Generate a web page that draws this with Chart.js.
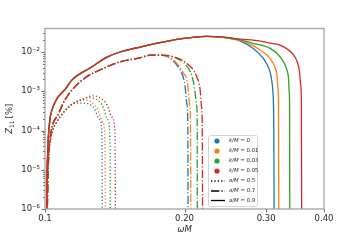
<!DOCTYPE html>
<html>
<head>
<meta charset="utf-8">
<script src="https://cdn.jsdelivr.net/npm/chart.js@4.4.1/dist/chart.umd.min.js"></script>
<style>
html,body{margin:0;padding:0;background:#fff;}
canvas{display:block;}
</style>
</head>
<body>
<canvas id="chart" width="360" height="240"></canvas>
<script>
// Axes
const omegaMin=0.1, omegaMax=0.4, zMin=1e-6, zMax=0.0397;
const omegaTicks=[0.1,0.2,0.3,0.4];
const omegaTickLabels=['0.1','0.20','0.30','0.40'];
const zMajorTicks=[1e-6,1e-5,1e-4,1e-3,1e-2];
const zTickLabels=['10⁻⁶','10⁻⁵','10⁻⁴','10⁻³','10⁻²'];

// Series
const kValues=['0','0.01','0.03','0.05'];
const kColors=['#1f77b4','#ff7f0e','#2ca02c','#d62728'];
const aValues=['0.5','0.7','0.9'];
const aDash=[[1.3,2.1],[8.3,2.1,1.3,2.1],[]];

// [omegaM, Z11 %]; rising part is shared by all k/M
const rise05=[[0.1007,1e-7],[0.10075,1e-6],[0.10125,1e-5],[0.102,3.2e-5],[0.1035,8.7e-5],[0.1061,1.66e-4],[0.1094,2.8e-4],[0.1149,4.8e-4]];
const tail05_k0=[[0.1208,5.0e-4],[0.127,4.0e-4],[0.1315,1.86e-4],[0.1328,5.7e-5],[0.133,1e-9]];
const tail05_k1=[[0.122,6.0e-4],[0.1295,3.7e-4],[0.1335,1.55e-4],[0.1348,3.8e-5],[0.1351,1e-9]];
const tail05_k2=[[0.1239,6.8e-4],[0.1328,4.5e-4],[0.1368,1.86e-4],[0.1382,3.8e-5],[0.1383,1e-9]];
const tail05_k3=[[0.1208,6.3e-4],[0.1263,7.6e-4],[0.1315,6.8e-4],[0.1361,4.5e-4],[0.1395,2.2e-4],[0.1416,8.7e-5],[0.1421,1e-9]];

const rise07=[[0.1009,1e-7],[0.10125,1.7e-6],[0.10176,1.8e-5],[0.1025,5.8e-5],[0.1072,2.8e-4],[0.1104,6.0e-4],[0.119,1.74e-3],[0.1361,4.2e-3],[0.1452,5.6e-3],[0.1604,7.1e-3],[0.1686,8.3e-3],[0.1772,8.3e-3]];
const tail07_k0=[[0.1862,6.9e-3],[0.1957,3.5e-3],[0.199,2.14e-3],[0.2006,1.3e-3],[0.2023,4.9e-4],[0.2033,1.5e-4],[0.2039,1e-9]];
const tail07_k1=[[0.1893,6.3e-3],[0.1989,2.9e-3],[0.203,1.6e-3],[0.2053,4.1e-4],[0.206,1.5e-4],[0.2067,1e-9]];
const tail07_k2=[[0.1925,6.9e-3],[0.2057,3.2e-3],[0.209,1.75e-3],[0.2126,4.1e-4],[0.213,1.5e-4],[0.2133,1e-9]];
const tail07_k3=[[0.1862,7.9e-3],[0.2023,5.1e-3],[0.2127,2.3e-3],[0.2162,1.07e-3],[0.2176,4.1e-4],[0.2184,1.5e-4],[0.2191,1e-9]];

const rise09=[[0.10075,1e-7],[0.10085,1.3e-6],[0.10135,2.7e-5],[0.1025,1.9e-4],[0.1035,3.3e-4],[0.1116,1.3e-3],[0.1144,1.95e-3],[0.1251,3.9e-3],[0.1361,7.4e-3],[0.1452,1.0e-2],[0.1604,1.34e-2],[0.189,2.02e-2],[0.2238,2.5e-2]];
const tail09_k0=[[0.2388,2.4e-2],[0.264,1.9e-2],[0.281,1.24e-2],[0.2958,6.9e-3],[0.3012,4.86e-3],[0.306,3.1e-3],[0.3088,1.75e-3],[0.3103,9.7e-4],[0.3117,1.0e-4],[0.3128,1e-9]];
const tail09_k1=[[0.2388,2.4e-2],[0.264,1.95e-2],[0.281,1.45e-2],[0.2913,1.12e-2],[0.306,6.9e-3],[0.314,3.85e-3],[0.3166,2.6e-3],[0.3186,9.7e-4],[0.3191,4.6e-4],[0.3198,1e-9]];
const tail09_k2=[[0.2388,2.41e-2],[0.264,2.04e-2],[0.281,1.66e-2],[0.306,1.24e-2],[0.3191,8.4e-3],[0.3271,5.6e-3],[0.3327,3.48e-3],[0.3354,2.1e-3],[0.3365,9.7e-4],[0.3371,4.5e-4],[0.3378,1e-9]];
const tail09_k3=[[0.2388,2.42e-2],[0.264,2.14e-2],[0.2913,1.9e-2],[0.306,1.69e-2],[0.3218,1.5e-2],[0.3332,1.19e-2],[0.3439,8.4e-3],[0.3502,5.6e-3],[0.3542,3.1e-3],[0.3563,1.44e-3],[0.3575,4.5e-4],[0.3584,1e-9]];

const rises=[rise05,rise07,rise09];
const tails=[[tail05_k0,tail05_k1,tail05_k2,tail05_k3],[tail07_k0,tail07_k1,tail07_k2,tail07_k3],[tail09_k0,tail09_k1,tail09_k2,tail09_k3]];

const FONT='"DejaVu Sans"';
const spineColor='#a3a3a3', textColor='#262626';

const datasets=[];
aValues.forEach((a,ai)=>{
  kValues.forEach((k,ki)=>{
    datasets.push({
      label:`a/M=${a}, k/M=${k}`,
      data:rises[ai].concat(tails[ai][ki]).map(([x,y])=>({x,y})),
      borderColor:kColors[ki], borderDash:aDash[ai], borderWidth:1.3,
      order:3-ki, fill:false
    });
  });
});

// spines, tick marks, axis titles
const framePlugin={id:'frame',afterDraw(chart){
  const {ctx,chartArea:ca,scales:{x,y}}=chart;
  ctx.save();
  ctx.strokeStyle='#444'; ctx.lineWidth=0.8;
  const ys=[];
  zMajorTicks.forEach(m=>{ for(let s=1;s<=9;s++){ const v=m*s; if(v<=zMax) ys.push([v,s===1]); } });
  ys.forEach(([v,major])=>{
    const py=Math.round(y.getPixelForValue(v))+0.5;
    ctx.beginPath(); ctx.moveTo(ca.left,py); ctx.lineTo(ca.left-(major?3.5:2),py); ctx.stroke();
  });
  omegaTicks.forEach(v=>{
    const px=Math.round(x.getPixelForValue(v))+0.5;
    ctx.beginPath(); ctx.moveTo(px,ca.bottom); ctx.lineTo(px,ca.bottom+3.5); ctx.stroke();
  });
  ctx.strokeStyle=spineColor; ctx.lineWidth=1.3;
  ctx.strokeRect(ca.left,ca.top,ca.right-ca.left,ca.bottom-ca.top);

  ctx.fillStyle=textColor; ctx.textBaseline='middle';
  // x title
  ctx.font=`italic 8.5px ${FONT}`; ctx.textAlign='center';
  ctx.fillText('ωM',(ca.left+ca.right)/2,230);
  // y title
  ctx.translate(10,(ca.top+ca.bottom)/2); ctx.rotate(-Math.PI/2);
  const parts=[['Z',`italic 8.5px ${FONT}`,0],['11 ',`6px ${FONT}`,2],['[%]',`8.5px ${FONT}`,0]];
  let w=0; parts.forEach(p=>{ctx.font=p[1]; w+=ctx.measureText(p[0]).width;});
  let cx=-w/2; ctx.textAlign='left';
  parts.forEach(p=>{ctx.font=p[1]; ctx.fillText(p[0],cx,p[2]); cx+=ctx.measureText(p[0]).width;});
  ctx.restore();
}};

// inset legend
const legendBox={x:208.5,y:135.5,w:49,h:71};
const legendRowY=[141,151,161,171,181,191,200.5];
const legendPlugin={id:'insetLegend',afterDraw(chart){
  const ctx=chart.ctx;
  ctx.save();
  ctx.beginPath();
  ctx.roundRect(legendBox.x,legendBox.y,legendBox.w,legendBox.h,2);
  ctx.fillStyle='rgba(255,255,255,0.85)'; ctx.fill();
  ctx.strokeStyle='#d4d4d4'; ctx.lineWidth=1; ctx.stroke();
  const rows=kValues.map((k,i)=>({sym:'k/M',val:k,color:kColors[i]}))
    .concat(aValues.map((a,i)=>({sym:'a/M',val:a,dash:aDash[i]})));
  rows.forEach((r,i)=>{
    const ry=legendRowY[i];
    if(r.color){
      ctx.fillStyle=r.color; ctx.beginPath(); ctx.arc(217,ry,2.6,0,Math.PI*2); ctx.fill();
    }else{
      ctx.strokeStyle='#000'; ctx.lineWidth=1.3; ctx.setLineDash(r.dash);
      ctx.beginPath(); ctx.moveTo(211,ry); ctx.lineTo(225,ry); ctx.stroke(); ctx.setLineDash([]);
    }
    ctx.fillStyle=textColor; ctx.textBaseline='middle'; ctx.textAlign='left';
    ctx.font=`italic 5.4px ${FONT}`; ctx.fillText(r.sym,229,ry);
    const sw=ctx.measureText(r.sym).width;
    ctx.font=`5.4px ${FONT}`; ctx.fillText(' = '+r.val,229+sw,ry);
  });
  ctx.restore();
}};

new Chart(document.getElementById('chart'),{
  type:'line',
  data:{datasets},
  options:{
    responsive:false, animation:false, devicePixelRatio:1,
    layout:{padding:{top:28.5,right:36,left:0,bottom:0}},
    plugins:{legend:{display:false},tooltip:{enabled:false}},
    elements:{point:{radius:0},line:{cubicInterpolationMode:'monotone',borderCapStyle:'butt'}},
    scales:{
      x:{type:'logarithmic',min:omegaMin,max:omegaMax,
        afterBuildTicks:s=>{s.ticks=omegaTicks.map(v=>({value:v}));},
        afterFit:s=>{s.height=31;},
        grid:{display:false,drawTicks:false},border:{display:false},
        ticks:{autoSkip:false,maxRotation:0,padding:5,color:textColor,font:{family:'DejaVu Sans',size:8.5},
          callback:(v,i)=>omegaTickLabels[i]}},
      y:{type:'logarithmic',min:zMin,max:zMax,
        afterBuildTicks:s=>{s.ticks=zMajorTicks.map(v=>({value:v}));},
        afterFit:s=>{s.width=45;},
        grid:{display:false,drawTicks:false},border:{display:false},
        ticks:{autoSkip:false,padding:5,color:textColor,font:{family:'DejaVu Sans',size:8.5},
          callback:(v,i)=>zTickLabels[i]}}
    }
  },
  plugins:[framePlugin,legendPlugin]
});
</script>
</body>
</html>
